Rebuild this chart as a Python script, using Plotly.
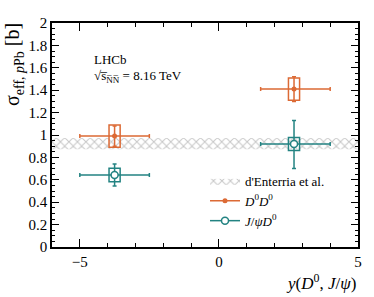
import plotly.graph_objects as go

# ---- data ----
bin_lo = [-5.0, 1.5]
bin_hi = [-2.5, 4.0]
x_center = [-3.75, 2.7]

dd_val = [0.99, 1.41]
dd_stat = [0.09, 0.11]
dd_syst = [0.10, 0.10]

jd_val = [0.643, 0.92]
jd_stat_up = [0.098, 0.21]
jd_stat_dn = [0.098, 0.22]
jd_syst = [0.06, 0.058]

band_x = [-6.0, 5.0]
band_lo = 0.872
band_hi = 0.972

x_ticks = [-5, 0, 5]
x_ticklabels = ["\u22125", "0", "5"]
y_ticks = [0, 0.2, 0.4, 0.6, 0.8, 1.0, 1.2, 1.4, 1.6, 1.8, 2.0]
y_ticklabels = ["0", "0.2", "0.4", "0.6", "0.8", "1", "1.2", "1.4", "1.6", "1.8", "2"]

ORANGE = "#DC6A35"
TEAL = "#238382"
FONT = "Liberation Serif"
box_half = 0.2

fig = go.Figure()

# hatched theory band
fig.add_trace(go.Scatter(
    x=[band_x[0], band_x[1], band_x[1], band_x[0], band_x[0]],
    y=[band_lo, band_lo, band_hi, band_hi, band_lo],
    mode="lines", fill="toself", line=dict(width=0, color="rgba(0,0,0,0)"),
    fillcolor="white",
    fillpattern=dict(shape="x", fgcolor="#8C8C8C", bgcolor="white", size=6, solidity=0.3),
    name="d'Enterria et al.", hoverinfo="skip"))

xm = [c - lo for c, lo in zip(x_center, bin_lo)]
xp = [hi - c for c, hi in zip(x_center, bin_hi)]

# systematic boxes
for xc, v, s in zip(x_center, dd_val, dd_syst):
    fig.add_shape(type="rect", xref="x", yref="y", x0=xc - box_half, x1=xc + box_half,
                  y0=v - s, y1=v + s, line=dict(color=ORANGE, width=1.5), fillcolor="rgba(0,0,0,0)")
for xc, v, s in zip(x_center, jd_val, jd_syst):
    fig.add_shape(type="rect", xref="x", yref="y", x0=xc - box_half, x1=xc + box_half,
                  y0=v - s, y1=v + s, line=dict(color=TEAL, width=1.5), fillcolor="rgba(0,0,0,0)")

fig.add_trace(go.Scatter(
    x=x_center, y=dd_val, mode="markers", showlegend=False,
    marker=dict(color=ORANGE, size=5, symbol="circle"),
    error_y=dict(type="data", array=dd_stat, color=ORANGE, thickness=1.5, width=2),
    error_x=dict(type="data", array=xp, arrayminus=xm, color=ORANGE, thickness=1.5, width=2)))

fig.add_trace(go.Scatter(
    x=x_center, y=jd_val, mode="markers", showlegend=False,
    marker=dict(color="white", size=7, symbol="circle", line=dict(color=TEAL, width=1.5)),
    error_y=dict(type="data", array=jd_stat_up, arrayminus=jd_stat_dn, color=TEAL, thickness=1.5, width=2),
    error_x=dict(type="data", array=xp, arrayminus=xm, color=TEAL, thickness=1.5, width=2)))

# legend proxies
fig.add_trace(go.Scatter(x=[None], y=[None], mode="lines+markers",
                         name="<i>D</i><sup>0</sup><i>D</i><sup>0</sup>",
                         marker=dict(color=ORANGE, size=5), line=dict(color=ORANGE, width=1.5)))
fig.add_trace(go.Scatter(x=[None], y=[None], mode="lines+markers",
                         name="<i>J</i>/<i>\u03c8</i><i>D</i><sup>0</sup>",
                         marker=dict(color="white", size=7, line=dict(color=TEAL, width=1.5)),
                         line=dict(color=TEAL, width=1.5)))

axis_common = dict(showline=True, linecolor="black", linewidth=1.5, mirror="allticks",
                   ticks="inside", tickcolor="black", tickwidth=1.2, showgrid=False, zeroline=False,
                   tickfont=dict(family=FONT, size=15, color="black"))

fig.update_xaxes(range=[-6, 5], tickvals=x_ticks, ticktext=x_ticklabels, ticklen=8,
                 minor=dict(dtick=1, ticklen=4, tickcolor="black", tickwidth=1.2, ticks="inside"),
                 **axis_common)
fig.update_yaxes(range=[0, 2], tickvals=y_ticks, ticktext=y_ticklabels, ticklen=7,
                 minor=dict(dtick=0.05, ticklen=3.5, tickcolor="black", tickwidth=1.2, ticks="inside"),
                 **axis_common)

fig.add_annotation(xref="paper", yref="paper", x=-0.125, y=1.01, xanchor="center", yanchor="top",
                   textangle=-90, showarrow=False,
                   text="\u03c3<sub>eff, <i>p</i>Pb</sub> [b]",
                   font=dict(family=FONT, size=20, color="black"))
fig.add_annotation(xref="paper", yref="paper", x=1.0, y=-0.1, xanchor="right", yanchor="top",
                   showarrow=False,
                   text="<i>y</i>(<i>D</i><sup>0</sup>, <i>J</i>/<i>\u03c8</i>)",
                   font=dict(family=FONT, size=17, color="black"))
fig.add_annotation(xref="paper", yref="paper", x=0.13, y=0.835, xanchor="left", yanchor="middle",
                   showarrow=False, text="LHCb", font=dict(family=FONT, size=13, color="black"))
fig.add_annotation(xref="paper", yref="paper", x=0.13, y=0.76, xanchor="left", yanchor="middle",
                   showarrow=False,
                   text="\u221as\u0305<sub>N\u0305N\u0305</sub> = 8.16 TeV",
                   font=dict(family=FONT, size=13, color="black"))

fig.update_layout(
    width=374, height=297,
    margin=dict(l=52, r=14, t=23, b=50),
    paper_bgcolor="white", plot_bgcolor="white",
    font=dict(family=FONT, color="black"),
    legend=dict(x=0.5, y=0.362, xanchor="left", yanchor="top", bgcolor="rgba(0,0,0,0)",
                font=dict(family=FONT, size=13, color="black"), itemwidth=30,
                tracegroupgap=0),
)

fig.write_html("out.html", config={"displayModeBar": False},
               post_script="document.body.style.margin='0';document.body.style.overflow='hidden';")
